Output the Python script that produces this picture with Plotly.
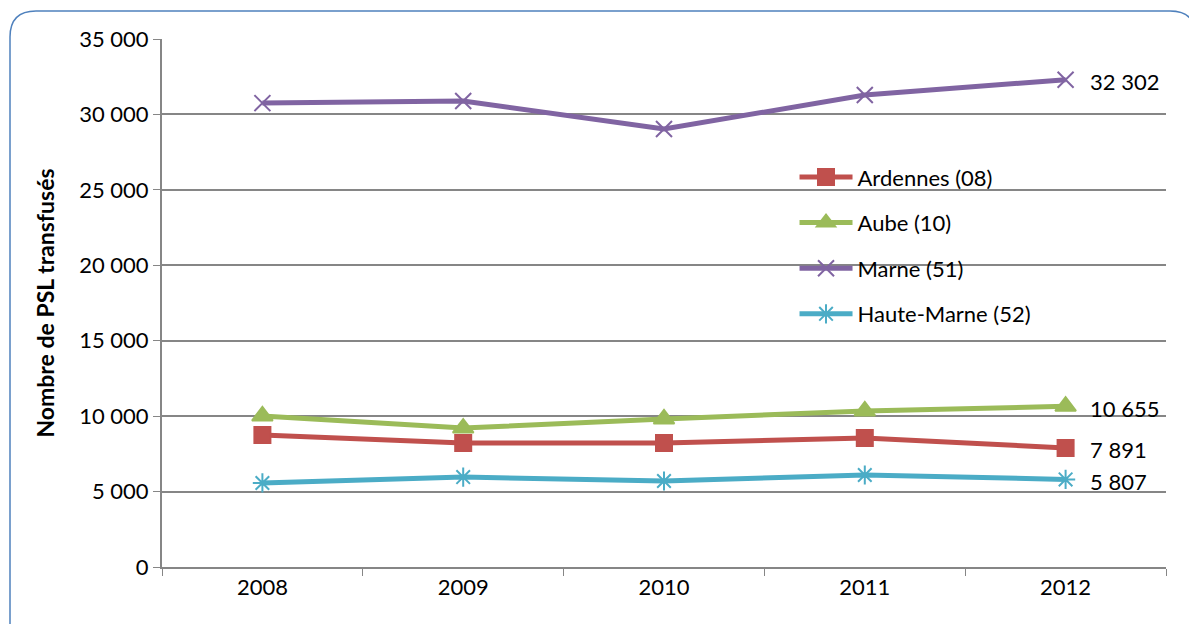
import plotly.graph_objects as go

years = ["2008", "2009", "2010", "2011", "2012"]
ardennes = [8750, 8220, 8220, 8550, 7891]
aube = [10010, 9210, 9810, 10340, 10655]
marne = [30750, 30890, 29030, 31290, 32302]
haute_marne = [5570, 5960, 5700, 6100, 5807]

series = [
    ("Ardennes (08)", ardennes, "#C0504D", "square", 16),
    ("Aube (10)", aube, "#9BBB59", "triangle-up", 18),
    ("Marne (51)", marne, "#8064A2", "x-thin-open", 16),
    ("Haute-Marne (52)", haute_marne, "#4BACC6", "asterisk-open", 16),
]

# page body has an 8px margin; compensate so plot area lands at screen px
OFF = 8
SW, SH = 1197, 624
L, R, T, B = 162, 1166, 39, 567  # screen coords of plot area
FONT = "Lato, sans-serif"

fig = go.Figure()
for i, (name, vals, color, sym, size) in enumerate(series):
    fig.add_trace(go.Scatter(
        x=years, y=vals, name=name, mode="lines+markers",
        legendgroup=f"g{i}",
        line=dict(color=color, width=5),
        marker=dict(symbol=sym, size=size, color=color,
                    line=dict(color=color, width=2)),
    ))
    last = vals[-1]
    fig.add_annotation(
        x=len(years) - 1, y=last, xref="x", yref="y",
        text=f"{last:,}".replace(",", " "),
        showarrow=False, xanchor="left", xshift=22, yshift=-2,
        font=dict(family=FONT, size=22, color="black"),
    )

def px(x):
    return (x - L) / (R - L)

def py(y):
    return (B - y) / (B - T)

x0, y0, x1, y1, r = 10, 11, 1196, 640, 26
path = (f"M {px(x0)},{py(y1)} L {px(x0)},{py(y0 + r)} "
        f"Q {px(x0)},{py(y0)} {px(x0 + r)},{py(y0)} "
        f"L {px(x1 - r)},{py(y0)} Q {px(x1)},{py(y0)} {px(x1)},{py(y0 + r)} "
        f"L {px(x1)},{py(y1)}")
fig.add_shape(type="path", path=path, xref="paper", yref="paper",
              line=dict(color="#4F81BD", width=1.5), layer="above")

fig.update_layout(
    width=SW - OFF, height=SH - OFF,
    margin=dict(l=L - OFF, r=SW - R, t=T - OFF, b=SH - B),
    paper_bgcolor="white", plot_bgcolor="white",
    separators=", ",
    font=dict(family=FONT, size=22, color="black"),
    showlegend=True,
    legend=dict(x=0.63, y=0.778, xanchor="left", yanchor="top",
                bgcolor="rgba(0,0,0,0)", borderwidth=0,
                tracegroupgap=14, itemwidth=53,
                font=dict(family=FONT, size=22)),
    xaxis=dict(
        type="category", range=[-0.5, 4.5],
        tickson="boundaries", ticks="outside", ticklen=7,
        tickcolor="#868686", showline=True, linecolor="#868686", linewidth=2,
        showgrid=False, tickfont=dict(size=22),
    ),
    yaxis=dict(
        range=[0, 35000], dtick=5000, tickformat=",d",
        ticks="outside", ticklen=7, tickcolor="#868686",
        showline=True, linecolor="#868686", linewidth=2,
        showgrid=True, gridcolor="#868686", gridwidth=1.5,
        zeroline=False, tickfont=dict(size=22),
        title=dict(text="<b>Nombre de PSL transfusés</b>",
                   font=dict(size=23), standoff=18),
    ),
)

fig.write_html("out.html")
